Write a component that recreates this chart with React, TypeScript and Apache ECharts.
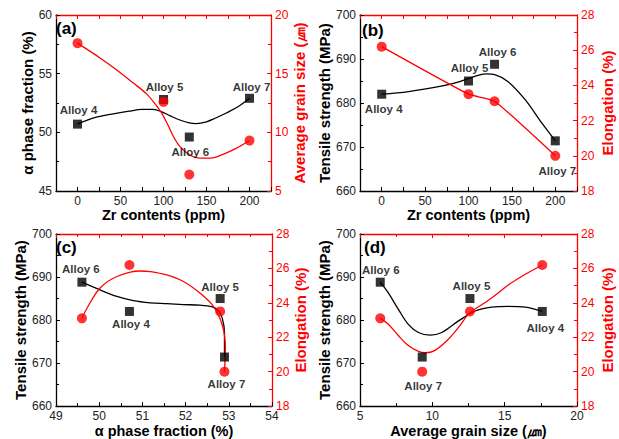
import React, { useEffect, useRef } from "react";
import * as echarts from "echarts";

// ---------- data ----------
const alloyNames = ["Alloy 4", "Alloy 5", "Alloy 6", "Alloy 7"];
const zrContents = [0, 100, 130, 200];
const alphaFraction = [50.7, 52.8, 49.6, 52.9];
const grainSize = [17.6, 12.6, 6.4, 9.3];
const tensileStrength = [682.0, 685.0, 688.8, 671.4];
const elongation = [26.2, 23.5, 23.1, 20.0];

// fitted curves
const fitAlphaVsZr = [
  [0, 50.7], [20, 51.25], [40, 51.55], [60, 51.8], [75, 51.95], [88, 51.95], [98, 51.75],
  [108, 51.4], [119, 51.05], [130, 50.8], [138, 50.75], [150, 50.9], [160, 51.2],
  [173, 51.65], [187, 52.2], [200, 52.9],
];
const fitGrainVsZr = [
  [0, 17.6], [27, 16.3], [46, 15.3], [65, 14.2], [80, 13.3], [90, 12.45], [97, 11.75],
  [104, 10.8], [111.5, 9.65], [119, 8.8], [131, 8.05], [142, 7.8], [155, 7.8],
  [170, 8.15], [185, 8.65], [200, 9.3],
];
const fitStrengthVsZr = [
  [0, 682.0], [31, 682.6], [70, 683.9], [89, 684.8], [108, 686.1], [119.5, 686.6],
  [131, 686.4], [146, 684.8], [165.5, 680.7], [184.6, 675.4], [200, 671.4],
];
const fitStrengthVsAlpha = [
  [49.6, 688.8], [50.02, 687.0], [50.41, 685.5], [50.79, 684.5], [51.18, 684.0],
  [51.56, 683.8], [51.95, 683.6], [52.33, 683.45], [52.6, 683.1], [52.75, 682.3],
  [52.85, 680.4], [52.9, 677.0], [52.9, 671.4],
];
const fitElongVsAlpha = [
  [49.6, 23.1], [49.72, 23.7], [50.02, 24.86], [50.41, 25.53], [50.95, 25.85],
  [51.18, 25.81], [51.56, 25.62], [51.95, 25.24], [52.33, 24.57], [52.64, 23.81],
  [52.85, 22.7], [52.92, 21.4], [52.9, 20.0],
];
const fitStrengthVsGrain = [
  [6.4, 688.8], [6.96, 686.3], [7.65, 682.5], [8.34, 679.0], [9.04, 677.1], [9.85, 676.5],
  [10.65, 677.1], [11.81, 679.8], [12.96, 682.1], [14.11, 683.0], [15.27, 683.2],
  [16.43, 683.0], [17.6, 682.0],
];
const fitElongVsGrain = [
  [6.4, 23.1], [6.96, 22.76], [7.65, 22.1], [8.34, 21.52], [9.04, 21.18], [9.5, 21.1],
  [10.19, 21.24], [11.12, 21.9], [11.81, 22.57], [12.6, 23.43], [13.63, 24.0],
  [14.55, 24.57], [15.27, 25.05], [16.43, 25.66], [17.6, 26.2],
];

// ---------- styles / layout ----------
const FONT = "'Liberation Sans', Arial, Helvetica, sans-serif";
const RED = "#ff0000";
const BLACK = "#000000";

type Panel = {
  grid: { left: number; top: number; width: number; height: number };
  x: { min: number; max: number; interval: number; labelStep: number; minor: boolean };
  xName: string;
  xGap: number;
  xVals: number[];
  yL: { min: number; max: number; interval: number };
  yLName: string;
  yLGap: number;
  yLVals: number[];
  yR: { min: number; max: number; interval: number };
  yRName: string;
  yRGap: number;
  yRVals: number[];
  fitL: number[][];
  fitR: number[][] | null;
  letter: string;
  letterPos: [number, number];
  offsets: number[][]; // label offsets, indexed like alloyNames
};

const panels: Panel[] = [
  {
    grid: { left: 56, top: 15, width: 215, height: 176 },
    x: { min: -25, max: 225, interval: 25, labelStep: 50, minor: false },
    xName: "Zr contents (ppm)", xGap: 13, xVals: zrContents,
    yL: { min: 45, max: 60, interval: 5 }, yLName: "α phase fraction (%)", yLGap: 17, yLVals: alphaFraction,
    yR: { min: 5, max: 20, interval: 5 }, yRName: "Average grain size (㎛)", yRGap: 21, yRVals: grainSize,
    fitL: fitAlphaVsZr, fitR: fitGrainVsZr,
    letter: "(a)", letterPos: [56, 20],
    offsets: [[1, -14], [1, -12.5], [1, 15], [2, -11]],
  },
  {
    grid: { left: 360, top: 15, width: 217, height: 176 },
    x: { min: -25, max: 225, interval: 25, labelStep: 50, minor: false },
    xName: "Zr contents (ppm)", xGap: 13, xVals: zrContents,
    yL: { min: 660, max: 700, interval: 10 }, yLName: "Tensile strength (MPa)", yLGap: 27, yLVals: tensileStrength,
    yR: { min: 18, max: 28, interval: 2 }, yRName: "Elongation (%)", yRGap: 23, yRVals: elongation,
    fitL: fitStrengthVsZr, fitR: null,
    letter: "(b)", letterPos: [362, 22],
    offsets: [[2, 15], [1, -13], [3, -12], [2, 30]],
  },
  {
    grid: { left: 56, top: 234, width: 216, height: 175 },
    x: { min: 49, max: 54, interval: 1, labelStep: 1, minor: true },
    xName: "α phase fraction (%)", xGap: 14, xVals: alphaFraction,
    yL: { min: 660, max: 700, interval: 10 }, yLName: "Tensile strength (MPa)", yLGap: 27, yLVals: tensileStrength,
    yR: { min: 18, max: 28, interval: 2 }, yRName: "Elongation (%)", yRGap: 18, yRVals: elongation,
    fitL: fitStrengthVsAlpha, fitR: fitElongVsAlpha,
    letter: "(c)", letterPos: [56, 239],
    offsets: [[1.5, 13], [0, -12], [-1, -13], [2, 27]],
  },
  {
    grid: { left: 360, top: 234, width: 217, height: 175 },
    x: { min: 5, max: 20, interval: 5, labelStep: 5, minor: true },
    xName: "Average grain size (㎛)", xGap: 13, xVals: grainSize,
    yL: { min: 660, max: 700, interval: 10 }, yLName: "Tensile strength (MPa)", yLGap: 27, yLVals: tensileStrength,
    yR: { min: 18, max: 28, interval: 2 }, yRName: "Elongation (%)", yRGap: 23, yRVals: elongation,
    fitL: fitStrengthVsGrain, fitR: fitElongVsGrain,
    letter: "(d)", letterPos: [364, 239],
    offsets: [[3, 17], [1.5, -13], [0.5, -12], [1, 29]],
  },
];

function isMultiple(v: number, step: number) {
  const r = v / step;
  return Math.abs(r - Math.round(r)) < 1e-6;
}

function buildOption() {
  const grid: any[] = [];
  const xAxis: any[] = [];
  const yAxis: any[] = [];
  const series: any[] = [];
  const graphic: any[] = [];

  panels.forEach((p, i) => {
    grid.push({ ...p.grid, containLabel: false });
    const xMin = p.x.min, xMax = p.x.max;
    xAxis.push({
      type: "value", gridIndex: i, position: "bottom",
      min: xMin, max: xMax, interval: p.x.interval,
      axisLine: { show: true, onZero: false, lineStyle: { color: BLACK, width: 1.3 } },
      axisTick: { show: true, inside: true, length: 4, lineStyle: { color: BLACK, width: 1 } },
      minorTick: { show: p.x.minor, splitNumber: 2, length: 3, lineStyle: { color: BLACK } },
      splitLine: { show: false },
      axisLabel: {
        show: true, showMinLabel: true, showMaxLabel: true,
        color: "#222", fontSize: 12, fontFamily: FONT, margin: 4,
        formatter: (v: number) => (isMultiple(v, p.x.labelStep) && !(p.x.min < 0 && (v < 0 || v > 200)) ? String(v) : ""),
      },
      name: p.xName, nameLocation: "middle", nameGap: p.xGap,
      nameTextStyle: { color: BLACK, fontSize: 14.5, fontWeight: "bold", fontFamily: FONT, verticalAlign: "top" },
    });
    xAxis.push({
      type: "value", gridIndex: i, position: "top",
      min: xMin, max: xMax, interval: p.x.interval,
      axisLine: { show: true, onZero: false, lineStyle: { color: RED, width: 1.3 } },
      axisTick: { show: true, inside: true, length: 4, lineStyle: { color: RED, width: 1 } },
      minorTick: { show: p.x.minor, splitNumber: 2, length: 3, lineStyle: { color: RED } },
      axisLabel: { show: false },
      splitLine: { show: false },
    });
    yAxis.push({
      type: "value", gridIndex: i, position: "left",
      min: p.yL.min, max: p.yL.max, interval: p.yL.interval,
      axisLine: { show: true, onZero: false, lineStyle: { color: BLACK, width: 1.3 } },
      axisTick: { show: true, inside: true, length: 4, lineStyle: { color: BLACK } },
      minorTick: { show: true, splitNumber: 2, length: 3, lineStyle: { color: BLACK } },
      splitLine: { show: false },
      axisLabel: { color: "#222", fontSize: 12, fontFamily: FONT, margin: 4, showMinLabel: true, showMaxLabel: true },
      name: p.yLName, nameLocation: "middle", nameRotate: 90, nameGap: p.yLGap,
      nameTextStyle: { color: BLACK, fontSize: 15, fontWeight: "bold", fontFamily: FONT },
    });
    yAxis.push({
      type: "value", gridIndex: i, position: "right",
      min: p.yR.min, max: p.yR.max, interval: p.yR.interval,
      axisLine: { show: true, onZero: false, lineStyle: { color: RED, width: 1.3 } },
      axisTick: { show: true, inside: true, length: 4, lineStyle: { color: RED } },
      minorTick: { show: true, splitNumber: 2, length: 3, lineStyle: { color: RED } },
      splitLine: { show: false },
      axisLabel: { color: RED, fontSize: 12, fontFamily: FONT, margin: 4, showMinLabel: true, showMaxLabel: true },
      name: p.yRName, nameLocation: "middle", nameRotate: 90, nameGap: p.yRGap,
      nameTextStyle: { color: RED, fontSize: 15, fontWeight: "bold", fontFamily: FONT },
    });

    const xIdx = i * 2;
    const yL = i * 2;
    const yR = i * 2 + 1;

    series.push({
      type: "line", xAxisIndex: xIdx, yAxisIndex: yL, data: p.fitL,
      smooth: 0.35, showSymbol: false, silent: true, z: 2,
      lineStyle: { color: BLACK, width: 1.3 },
    });
    const redLine = p.fitR ?? p.xVals.map((x, k) => [x, p.yRVals[k]]);
    series.push({
      type: "line", xAxisIndex: xIdx, yAxisIndex: yR, data: redLine,
      smooth: p.fitR ? 0.35 : 0.15, showSymbol: false, silent: true, z: 2,
      lineStyle: { color: RED, width: 1.3 },
    });
    series.push({
      type: "scatter", xAxisIndex: xIdx, yAxisIndex: yL, symbol: "rect", symbolSize: 9, z: 3,
      itemStyle: { color: BLACK },
      data: p.xVals.map((x, k) => ({
        value: [x, p.yLVals[k]],
        label: {
          show: true, position: "inside", offset: p.offsets[k], formatter: alloyNames[k],
          color: BLACK, fontSize: 11.5, fontWeight: "bold", fontFamily: FONT,
        },
      })),
    });
    series.push({
      type: "scatter", xAxisIndex: xIdx, yAxisIndex: yR, symbol: "circle", symbolSize: 10, z: 4,
      itemStyle: { color: RED },
      data: p.xVals.map((x, k) => [x, p.yRVals[k]]),
    });

    graphic.push({
      type: "text", left: p.letterPos[0], top: p.letterPos[1],
      style: { text: p.letter, fill: BLACK, font: `bold 17px ${FONT}` },
    });
  });

  return { animation: false, backgroundColor: "#ffffff", grid, xAxis, yAxis, series, graphic };
}

export default function App() {
  const ref = useRef<HTMLDivElement>(null);
  useEffect(() => {
    if (!ref.current) return;
    const chart = echarts.init(ref.current, null, { renderer: "svg" });
    chart.setOption(buildOption() as any);
    return () => chart.dispose();
  }, []);
  return (
    <div
      ref={ref}
      style={{ position: "absolute", left: 0, top: 0, width: 619, height: 439, background: "#fff" }}
    />
  );
}
